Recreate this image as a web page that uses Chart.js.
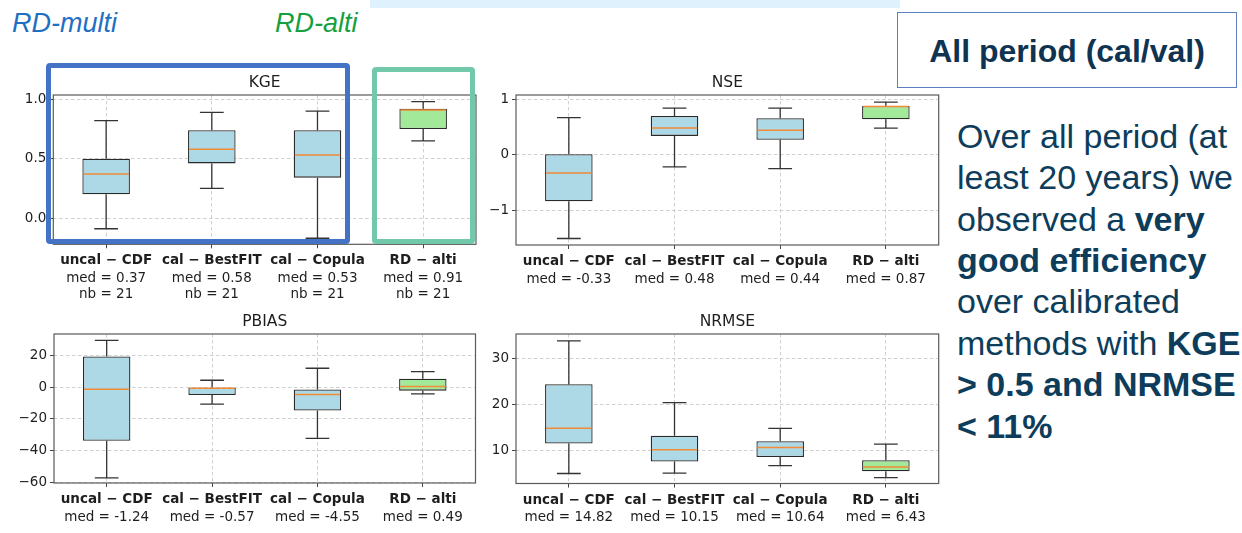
<!DOCTYPE html>
<html>
<head>
<meta charset="utf-8">
<title>All period (cal/val)</title>
<script src="https://cdn.jsdelivr.net/npm/chart.js@4.4.1/dist/chart.umd.min.js"></script>
<style>
  html, body { margin: 0; padding: 0; background: #ffffff; }
  body { width: 1242px; height: 533px; position: relative; overflow: hidden;
         font-family: "Liberation Sans", Arial, sans-serif; }
  canvas { position: absolute; z-index: 1; }
  .band { position: absolute; left: 370px; top: 0; width: 530px; height: 8px; background: #dff1fc; }
  .tag { position: absolute; top: 10px; font-style: italic; font-size: 27px; line-height: 27px; white-space: nowrap; }
  .frame { position: absolute; box-sizing: border-box; border-style: solid; border-width: 5px;
           border-radius: 4px; z-index: 3; }
  .headbox { position: absolute; left: 897px; top: 12px; width: 340px; height: 76px; box-sizing: border-box;
             border: 1.5px solid #5b7fc0; }
  .headtxt { position: absolute; left: 897px; top: 34.6px; width: 340px; text-align: center;
             font-weight: bold; font-size: 32px; line-height: 32px; color: #0f3350; white-space: nowrap; }
  .body { position: absolute; left: 957px; top: 115.8px; font-size: 34px; line-height: 41.4px;
          color: #0d3d5a; white-space: nowrap; }
</style>
</head>
<body>
<div class="band"></div>
<div class="tag" style="left:12px;color:#1f6fc2;">RD-multi</div>
<div class="tag" style="left:275px;color:#16a03e;">RD-alti</div>

<div class="headbox"></div>
<div class="headtxt">All period (cal/val)</div>
<div class="body">Over all period (at<br>least 20 years) we<br>observed a <b>very</b><br><b>good efficiency</b><br>over calibrated<br>methods with <b>KGE</b><br><b>&gt; 0.5 and NRMSE</b><br><b>&lt; 11%</b></div>

<canvas id="kge" width="500" height="250" style="left:0px;top:60px;"></canvas>
<canvas id="nse" width="470" height="250" style="left:480px;top:60px;"></canvas>
<canvas id="pbias" width="500" height="233" style="left:0px;top:300px;"></canvas>
<canvas id="nrmse" width="470" height="233" style="left:480px;top:300px;"></canvas>

<div class="frame" style="left:46px;top:63px;width:304px;height:181px;border-color:#4472c4;"></div>
<div class="frame" style="left:372px;top:67px;width:103px;height:177px;border-color:#72c9a9;"></div>

<script>
// Methods compared in every panel
const categories = ['uncal \u2212 CDF', 'cal \u2212 BestFIT', 'cal \u2212 Copula', 'RD \u2212 alti'];
const stationCount = [21, 21, 21, 21];

// KGE box statistics (whisker low, Q1, median, Q3, whisker high)
const kgeLow  = [-0.09, 0.25, -0.17, 0.65];
const kgeQ1   = [0.20, 0.46, 0.34, 0.75];
const kgeMed  = [0.37, 0.58, 0.53, 0.91];
const kgeQ3   = [0.50, 0.74, 0.74, 0.92];
const kgeHigh = [0.82, 0.89, 0.90, 0.98];
const kgeTicks = [0, 0.5, 1.0];
const kgeTickLabels = ['0.0', '0.5', '1.0'];

// NSE box statistics
const nseLow  = [-1.51, -0.22, -0.25, 0.48];
const nseQ1   = [-0.84, 0.34, 0.27, 0.64];
const nseMed  = [-0.33, 0.48, 0.44, 0.87];
const nseQ3   = [0.01, 0.70, 0.66, 0.88];
const nseHigh = [0.67, 0.84, 0.84, 0.95];
const nseTicks = [-1, 0, 1];
const nseTickLabels = ['\u22121', '0', '1'];

// PBIAS box statistics
const pbiasLow  = [-57.3, -10.6, -32.3, -4.1];
const pbiasQ1   = [-33.8, -4.9, -14.7, -2.1];
const pbiasMed  = [-1.24, -0.57, -4.55, 0.49];
const pbiasQ3   = [19.5, -0.2, -1.3, 5.5];
const pbiasHigh = [29.7, 4.5, 12.1, 10.0];
const pbiasTicks = [-60, -40, -20, 0, 20];
const pbiasTickLabels = ['\u221260', '\u221240', '\u221220', '0', '20'];

// NRMSE box statistics
const nrmseLow  = [5.0, 5.1, 6.7, 4.1];
const nrmseQ1   = [11.5, 7.6, 8.6, 5.5];
const nrmseMed  = [14.82, 10.15, 10.64, 6.43];
const nrmseQ3   = [24.4, 13.2, 12.0, 7.9];
const nrmseHigh = [33.8, 20.4, 14.8, 11.4];
const nrmseTicks = [10, 20, 30];
const nrmseTickLabels = ['10', '20', '30'];

// Styling
const FONT = '"DejaVu Sans", "Liberation Sans", sans-serif';
const TEXT = '#1e1e1e';
const BOX_BLUE = '#add8e6';
const BOX_GREEN = '#a3e99a';
const MEDIAN = '#f28a36';
const EDGE = '#2a2a2a';
const SPINE = '#5a5a5a';
const GRID = '#c4c4c4';

// Panel frames: canvas placement and plot area (page pixels)
const panels = [
  { id: 'kge', title: 'KGE', canvas: { x: 0, y: 60, w: 500, h: 250 }, plot: { l: 53.3, r: 476, t: 95, b: 244.3 },
    yMin: -0.221, yMax: 1.036, ticks: kgeTicks, tickLabels: kgeTickLabels, showCount: true,
    low: kgeLow, q1: kgeQ1, med: kgeMed, q3: kgeQ3, high: kgeHigh },
  { id: 'nse', title: 'NSE', canvas: { x: 480, y: 60, w: 470, h: 250 }, plot: { l: 516, r: 938.7, t: 95, b: 245 },
    yMin: -1.627, yMax: 1.077, ticks: nseTicks, tickLabels: nseTickLabels, showCount: false,
    low: nseLow, q1: nseQ1, med: nseMed, q3: nseQ3, high: nseHigh },
  { id: 'pbias', title: 'PBIAS', canvas: { x: 0, y: 300, w: 500, h: 233 }, plot: { l: 54, r: 475.5, t: 334, b: 483 },
    yMin: -60.6, yMax: 33.8, ticks: pbiasTicks, tickLabels: pbiasTickLabels, showCount: false,
    low: pbiasLow, q1: pbiasQ1, med: pbiasMed, q3: pbiasQ3, high: pbiasHigh },
  { id: 'nrmse', title: 'NRMSE', canvas: { x: 480, y: 300, w: 470, h: 233 }, plot: { l: 516, r: 938.7, t: 334, b: 483.5 },
    yMin: 2.83, yMax: 35.3, ticks: nrmseTicks, tickLabels: nrmseTickLabels, showCount: false,
    low: nrmseLow, q1: nrmseQ1, med: nrmseMed, q3: nrmseQ3, high: nrmseHigh }
];

// Whiskers, caps, medians, spines, titles and the category labels below each panel
const boxplotDecor = {
  id: 'boxplotDecor',
  afterDatasetsDraw(chart, args, opts) {
    const p = opts.panel;
    const ctx = chart.ctx;
    const xs = chart.scales.x, ys = chart.scales.y;
    const meta = chart.getDatasetMeta(0);
    ctx.save();
    categories.forEach((c, i) => {
      const x = xs.getPixelForValue(i);
      const w = meta.data[i].width;
      const cap = w / 4;
      const yLo = ys.getPixelForValue(p.low[i]);
      const yQ1 = ys.getPixelForValue(p.q1[i]);
      const yQ3 = ys.getPixelForValue(p.q3[i]);
      const yHi = ys.getPixelForValue(p.high[i]);
      const yMed = ys.getPixelForValue(p.med[i]);
      ctx.strokeStyle = '#333333';
      ctx.lineWidth = 1.3;
      ctx.beginPath();
      ctx.moveTo(x, yQ3); ctx.lineTo(x, yHi);
      ctx.moveTo(x - cap, yHi); ctx.lineTo(x + cap, yHi);
      ctx.moveTo(x, yQ1); ctx.lineTo(x, yLo);
      ctx.moveTo(x - cap, yLo); ctx.lineTo(x + cap, yLo);
      ctx.stroke();
      ctx.strokeStyle = MEDIAN;
      ctx.lineWidth = 1.5;
      ctx.beginPath();
      ctx.moveTo(x - w / 2 + 1, yMed); ctx.lineTo(x + w / 2 - 1, yMed);
      ctx.stroke();
    });
    ctx.restore();
  },
  afterDraw(chart, args, opts) {
    const p = opts.panel;
    const ctx = chart.ctx;
    const a = chart.chartArea;
    const xs = chart.scales.x;
    ctx.save();
    // frame around the plot area
    ctx.strokeStyle = SPINE;
    ctx.lineWidth = 1.2;
    ctx.strokeRect(a.left, a.top, a.right - a.left, a.bottom - a.top);
    // panel title
    ctx.fillStyle = TEXT;
    ctx.textAlign = 'center';
    ctx.textBaseline = 'middle';
    ctx.font = '15.5px ' + FONT;
    ctx.fillText(p.title, (a.left + a.right) / 2, a.top - 11.7);
    // category name (bold) with median and station count beneath
    categories.forEach((c, i) => {
      const x = xs.getPixelForValue(i);
      ctx.font = 'bold 13.5px ' + FONT;
      const hasDesc = ctx.measureText(c).actualBoundingBoxDescent > 1.5;
      const base = a.bottom + 14.6 + (hasDesc ? 2 : 0);
      const step = 16.2;
      ctx.fillText(c, x, base);
      ctx.font = '13.5px ' + FONT;
      const extra = hasDesc ? 1.5 : 0;
      ctx.fillText('med = ' + p.med[i].toFixed(2), x, base + step + extra);
      if (p.showCount) {
        ctx.fillText('nb = ' + stationCount[i], x, base + 2 * step + extra);
      }
    });
    ctx.restore();
  }
};

panels.forEach(p => {
  const c = p.canvas, pl = p.plot;
  const fills = categories.map((_, i) => i === categories.length - 1 ? BOX_GREEN : BOX_BLUE);
  const gridOpts = {
    color: GRID, lineWidth: 0.8,
    drawTicks: true, tickLength: 4, tickColor: '#444', tickWidth: 1, tickBorderDash: []
  };
  new Chart(document.getElementById(p.id), {
    type: 'bar',
    data: {
      labels: categories,
      datasets: [{
        data: categories.map((_, i) => [p.q1[i], p.q3[i]]),
        backgroundColor: fills,
        borderColor: EDGE,
        borderWidth: 1.3,
        borderSkipped: false,
        categoryPercentage: 1.0,
        barPercentage: 0.45
      }]
    },
    options: {
      responsive: false,
      animation: false,
      events: [],
      devicePixelRatio: 1,
      layout: { padding: { left: 0, top: pl.t - c.y, right: c.x + c.w - pl.r, bottom: 0 } },
      plugins: {
        legend: { display: false },
        tooltip: { enabled: false },
        title: { display: false },
        boxplotDecor: { panel: p }
      },
      scales: {
        x: {
          type: 'category',
          offset: true,
          ticks: { display: false },
          grid: Object.assign({ offset: false }, gridOpts),
          border: { display: false, dash: [3.5, 2.5] },
          afterFit: s => { s.height = c.h - (pl.b - c.y); }
        },
        y: {
          type: 'linear',
          min: p.yMin,
          max: p.yMax,
          afterBuildTicks: s => { s.ticks = p.ticks.map(v => ({ value: v })); },
          ticks: {
            padding: 3,
            color: TEXT,
            font: { family: FONT, size: 13.5 },
            callback: v => p.tickLabels[p.ticks.indexOf(v)]
          },
          grid: Object.assign({}, gridOpts),
          border: { display: false, dash: [3.5, 2.5] },
          afterFit: s => { s.width = pl.l - c.x; }
        }
      }
    },
    plugins: [boxplotDecor]
  });
});
</script>
</body>
</html>
